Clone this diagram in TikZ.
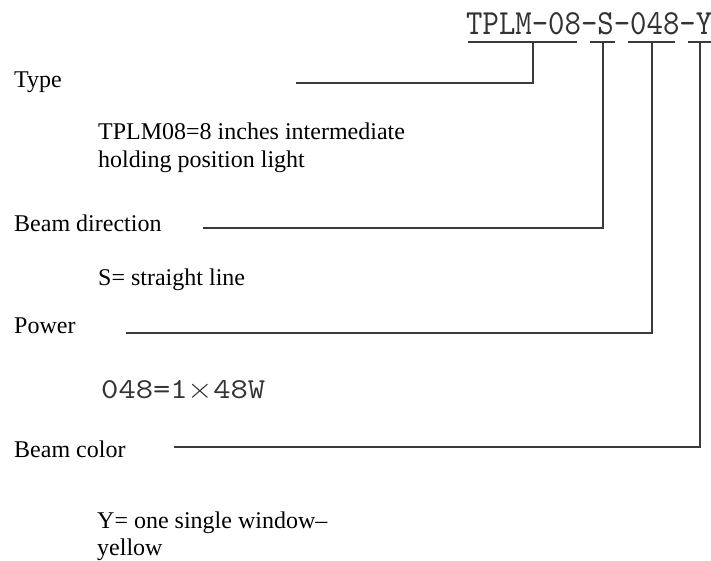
\documentclass[tikz,border=0pt]{standalone}
\usepackage{fontspec}
\setmainfont{Liberation Serif}
\usepackage{graphicx}
\newcommand{\codetxt}{\ttfamily}
\definecolor{linegray}{HTML}{3A3A3A}
\definecolor{codegray}{HTML}{333333}
\begin{document}
\begin{tikzpicture}[x=1pt,y=-1pt,
  lbl/.style={anchor=base west,inner sep=0pt,font=\fontsize{24}{28}\selectfont},
  conn/.style={draw=linegray,line width=1.3pt},
  uline/.style={draw=linegray,line width=1.3pt}]
\useasboundingbox (0,0) rectangle (711,561);
% code
\node[anchor=base west,inner sep=0pt,text=codegray] (code) at (466,35)
  {\resizebox{246pt}{22pt}{\codetxt TPLM-08-S-048-Y}};
% underlines
\coordinate (u1a) at (468,42); \coordinate (u1b) at (577,42);
\coordinate (u2a) at (590,42); \coordinate (u2b) at (615,42);
\coordinate (u3a) at (628,42); \coordinate (u3b) at (675,42);
\coordinate (u4a) at (688,42); \coordinate (u4b) at (711,42);
\draw[uline] (u1a) -- (u1b);
\draw[uline] (u2a) -- (u2b);
\draw[uline] (u3a) -- (u3b);
\draw[uline] (u4a) -- (u4b);
% labels
\node[lbl] (type) at (14,88) {Type};
\node[lbl] (typed1) at (98,140) {TPLM08=8 inches intermediate};
\node[lbl] (typed2) at (98,168) {holding position light};
\node[lbl] (beam) at (14,232) {Beam direction};
\node[lbl] (beamd) at (98,285) {S= straight line};
\node[lbl] (power) at (14,333) {Power};
\node[anchor=base west,inner sep=0pt,text=codegray] (powerd) at (101,398)
  {\resizebox{164pt}{18pt}{\codetxt 048=1$\times$48W}};
\node[lbl] (color) at (14,457) {Beam color};
\node[lbl] (colord1) at (97,528) {Y= one single window–};
\node[lbl] (colord2) at (97,555) {yellow};
% connectors
\coordinate (t0) at (296,83); \coordinate (t1) at (533,83); \coordinate (t2) at (533,42);
\coordinate (b0) at (203,228); \coordinate (b1) at (603,228); \coordinate (b2) at (603,42);
\coordinate (p0) at (126,333); \coordinate (p1) at (652,333); \coordinate (p2) at (652,42);
\coordinate (c0) at (174,447); \coordinate (c1) at (700,447); \coordinate (c2) at (700,42);
\draw[conn] (t0) -- (t1) -- (t2);
\draw[conn] (b0) -- (b1) -- (b2);
\draw[conn] (p0) -- (p1) -- (p2);
\draw[conn] (c0) -- (c1) -- (c2);
\end{tikzpicture}
\end{document}
